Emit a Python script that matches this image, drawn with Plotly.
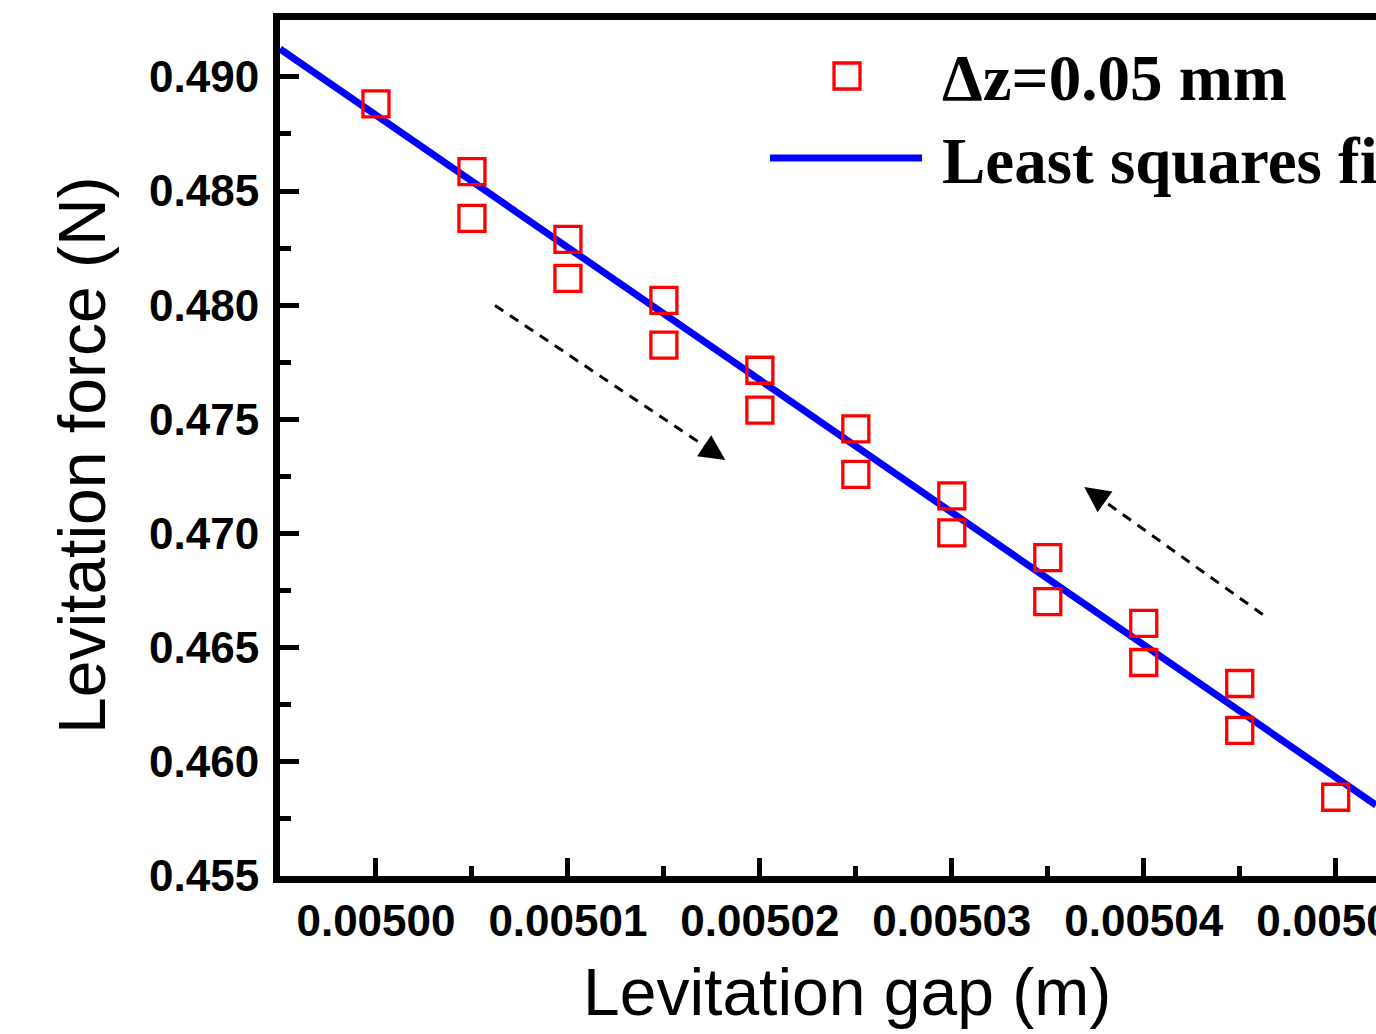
import numpy as np
import plotly.graph_objects as go

# ---- data ----
gap = [0.005000,
       0.005005, 0.005005,
       0.005010, 0.005010,
       0.005015, 0.005015,
       0.005020, 0.005020,
       0.005025, 0.005025,
       0.005030, 0.005030,
       0.005035, 0.005035,
       0.005040, 0.005040,
       0.005045, 0.005045,
       0.005050]
force = [0.48882,
         0.48585, 0.48380,
         0.48288, 0.48117,
         0.48021, 0.47825,
         0.47715, 0.47540,
         0.47458, 0.47259,
         0.47165, 0.47003,
         0.46894, 0.46702,
         0.46606, 0.46435,
         0.46343, 0.46138,
         0.45845]
fit_slope = -580.0
fit_intercept = 3.388323

x_range = [0.0049950, 0.0050521]
y_range = [0.455, 0.49249]
x_tick0, x_dtick, x_minor = 0.005, 0.00001, 0.000005
y_dtick, y_minor = 0.005, 0.0025

arrow_down = {"tail": (0.0050062, 0.47999), "head": (0.0050182, 0.47322)}
arrow_up = {"tail": (0.0050462, 0.46645), "head": (0.0050369, 0.47204)}

legend_labels = ["\u0394z=0.05 mm", "Least squares fit"]
x_title = "Levitation gap (m)"
y_title = "Levitation force (N)"

# ---- figure ----
W, H = 1376, 1034
ML, MT, MR, MB = 280, 20, 0, 158
PW, PH = W - ML - MR, H - MT - MB


def px_to_paper(px, py):
    return (px - ML) / PW, (H - MB - py) / PH


fig = go.Figure()

fit_x = np.array(x_range)
fit_y = np.polyval([fit_slope, fit_intercept], fit_x)
fig.add_trace(go.Scatter(x=fit_x, y=fit_y, mode="lines",
                         line=dict(color="#0000ff", width=7),
                         showlegend=False, hoverinfo="skip"))
fig.add_trace(go.Scatter(x=gap, y=force, mode="markers",
                         marker=dict(symbol="square-open", size=26, color="#ff0000",
                                     line=dict(width=3.3, color="#ff0000")),
                         showlegend=False))

# dashed arrows
sx = PW / (x_range[1] - x_range[0])
sy = PH / (y_range[1] - y_range[0])
for arr in (arrow_down, arrow_up):
    (tx, ty), (hx, hy) = arr["tail"], arr["head"]
    dx = (hx - tx) * sx
    dy = -(hy - ty) * sy
    L = np.hypot(dx, dy)
    ex = hx - (dx / L) * 12 / sx
    ey = hy + (dy / L) * 12 / sy
    fig.add_shape(type="line", x0=tx, y0=ty, x1=ex, y1=ey, xref="x", yref="y",
                  line=dict(color="black", width=3, dash="10px,8px"))
    fig.add_annotation(x=hx, y=hy, xref="x", yref="y", ax=-dx / L * 22, ay=-dy / L * 22,
                       axref="pixel", ayref="pixel", showarrow=True, arrowhead=2,
                       arrowsize=1.7, arrowwidth=3, arrowcolor="black", text="")

# legend (drawn manually)
sq_c = (847, 76)
sq_h = 13
x0p, y0p = px_to_paper(sq_c[0] - sq_h, sq_c[1] + sq_h)
x1p, y1p = px_to_paper(sq_c[0] + sq_h, sq_c[1] - sq_h)
fig.add_shape(type="rect", xref="paper", yref="paper", x0=x0p, y0=y0p, x1=x1p, y1=y1p,
              line=dict(color="#ff0000", width=3.3), fillcolor="rgba(0,0,0,0)")
lx0, ly = px_to_paper(770, 158)
lx1, _ = px_to_paper(922, 158)
fig.add_shape(type="line", xref="paper", yref="paper", x0=lx0, y0=ly, x1=lx1, y1=ly,
              line=dict(color="#0000ff", width=7))
for label, py in zip(legend_labels, (78, 161)):
    tx, ty = px_to_paper(940, py)
    fig.add_annotation(x=tx, y=ty, xref="paper", yref="paper", text=label,
                       showarrow=False, xanchor="left", yanchor="middle",
                       font=dict(family="Liberation Serif", size=65, color="black",
                                 weight="bold"))

# axis titles
tx, ty = px_to_paper(847, 992)
fig.add_annotation(x=tx, y=ty, xref="paper", yref="paper", text=x_title, showarrow=False,
                   xanchor="center", yanchor="middle",
                   font=dict(family="Liberation Sans", size=66, color="black"))
tx, ty = px_to_paper(82, 455)
fig.add_annotation(x=tx, y=ty, xref="paper", yref="paper", text=y_title, showarrow=False,
                   xanchor="center", yanchor="middle", textangle=-90,
                   font=dict(family="Liberation Sans", size=66, color="black"))

tickfont = dict(family="Liberation Sans", size=44, color="black", weight="bold")
fig.update_xaxes(range=x_range, tick0=x_tick0, dtick=x_dtick, tickformat=".5f",
                 showline=True, linewidth=7, linecolor="black", mirror=True,
                 ticks="inside", ticklen=18, tickwidth=5, tickcolor="black",
                 minor=dict(ticks="inside", ticklen=10, tickwidth=5, tickcolor="black",
                            dtick=x_minor, tick0=x_tick0),
                 showgrid=False, zeroline=False, tickfont=tickfont, automargin=False,
                 ticklabeloverflow="allow", ticklabelstandoff=0)
fig.update_yaxes(range=y_range, tick0=0.455, dtick=y_dtick, tickformat=".3f",
                 showline=True, linewidth=7, linecolor="black", mirror=False,
                 ticks="inside", ticklen=19, tickwidth=5, tickcolor="black",
                 minor=dict(ticks="inside", ticklen=11, tickwidth=5, tickcolor="black",
                            dtick=y_minor, tick0=0.455),
                 showgrid=False, zeroline=False, tickfont=tickfont, automargin=False,
                 ticklabelstandoff=5)

fig.update_layout(width=W, height=H, margin=dict(l=ML, r=MR, t=MT, b=MB, pad=0,
                                                 autoexpand=False),
                  plot_bgcolor="white", paper_bgcolor="white", showlegend=False)

fig.write_html("out.html", config={"displayModeBar": False},
               post_script="document.body.style.margin='0';document.body.style.overflow='hidden';")
